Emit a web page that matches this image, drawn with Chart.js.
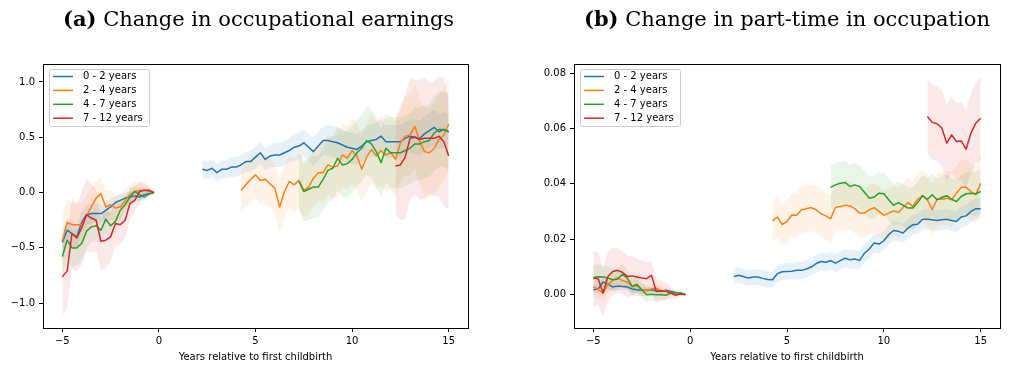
<!DOCTYPE html>
<html>
<head>
<meta charset="utf-8">
<script src="https://cdn.jsdelivr.net/npm/chart.js@4.4.0/dist/chart.umd.min.js"></script>
<style>
  body { margin: 0; background: #fff; width: 1010px; height: 367px; position: relative; overflow: hidden; }
  canvas { position: absolute; top: 0; }
  #chartEarnings { left: 0; }
  #chartPartTime { left: 505px; }
  .caption {
    position: absolute; top: 7px; z-index: 2;
    font-family: "DejaVu Serif", serif; font-size: 21px; line-height: 24px;
    white-space: nowrap; color: #000;
  }
</style>
</head>
<body>
<canvas id="chartEarnings" width="505" height="367"></canvas>
<canvas id="chartPartTime" width="505" height="367"></canvas>
<div class="caption" style="left:63px"><b>(a)</b> Change in occupational earnings</div>
<div class="caption" style="left:584px"><b>(b)</b> Change in part-time in occupation</div>
<script>
/* ---------------------------------------------------------
   Event study around first childbirth – two panels
--------------------------------------------------------- */

const seriesLabels = ["0 - 2 years", "2 - 4 years", "4 - 7 years", "7 - 12 years"];
const seriesColors = ["#1f77b4", "#ff7f0e", "#2ca02c", "#d62728"];

/* quarters before birth (last one is the reference quarter) */
const preX = [-5, -4.75, -4.5, -4.25, -4, -3.75, -3.5, -3.25, -3, -2.75,
              -2.5, -2.25, -2, -1.75, -1.5, -1.25, -1, -0.75, -0.5, -0.25];
/* quarters after birth */
const postX = [2.25, 2.5, 2.75, 3, 3.25, 3.5, 3.75, 4, 4.25, 4.5, 4.75, 5, 5.25,
               5.5, 5.75, 6, 6.25, 6.5, 6.75, 7, 7.25, 7.5, 7.75, 8, 8.25, 8.5,
               8.75, 9, 9.25, 9.5, 9.75, 10, 10.25, 10.5, 10.75, 11, 11.25, 11.5,
               11.75, 12, 12.25, 12.5, 12.75, 13, 13.25, 13.5, 13.75, 14, 14.25,
               14.5, 14.75, 15];
const postStart = [2.25, 4.25, 7.25, 12.25];

const xTicks = [-5, 0, 5, 10, 15];
const yTicksEarn = [-1, -0.5, 0, 0.5, 1];
const yTicksPart = [0, 0.02, 0.04, 0.06, 0.08];

/* ---------- (a) occupational earnings ---------- */
const earnPre02  = [-0.45, -0.34, -0.37, -0.40, -0.27, -0.20, -0.19, -0.19, -0.19, -0.16,
                    -0.13, -0.09, -0.07, -0.05, -0.04, -0.03, -0.04, -0.02, -0.01, 0];
const earnPre24  = [-0.44, -0.27, -0.29, -0.29, -0.29, -0.21, -0.13, -0.05, -0.01, -0.13,
                    -0.11, -0.14, -0.13, -0.07, -0.02, 0.01, 0.02, 0.02, 0.01, 0];
const earnPre47  = [-0.58, -0.43, -0.50, -0.50, -0.46, -0.35, -0.31, -0.30, -0.34, -0.24,
                    -0.30, -0.26, -0.16, -0.11, -0.04, 0.01, -0.02, -0.04, -0.01, 0];
const earnPre712 = [-0.76, -0.71, -0.37, -0.41, -0.32, -0.20, -0.23, -0.25, -0.44, -0.43,
                    -0.40, -0.28, -0.29, -0.25, -0.10, -0.07, 0.01, 0.02, 0.02, 0];

const earnCiPre02  = [0.12, 0.11, 0.11, 0.10, 0.10, 0.09, 0.09, 0.08, 0.08, 0.07,
                      0.07, 0.06, 0.06, 0.05, 0.05, 0.04, 0.04, 0.03, 0.02, 0];
const earnCiPre24  = [0.22, 0.21, 0.20, 0.20, 0.19, 0.18, 0.17, 0.16, 0.15, 0.14,
                      0.13, 0.12, 0.11, 0.10, 0.09, 0.08, 0.07, 0.05, 0.03, 0];
const earnCiPre47  = [0.18, 0.17, 0.17, 0.16, 0.15, 0.15, 0.14, 0.13, 0.12, 0.12,
                      0.11, 0.10, 0.09, 0.08, 0.07, 0.06, 0.05, 0.04, 0.03, 0];
const earnCiPre712 = [0.36, 0.33, 0.32, 0.30, 0.33, 0.33, 0.31, 0.28, 0.26, 0.25,
                      0.22, 0.20, 0.18, 0.16, 0.14, 0.12, 0.09, 0.07, 0.04, 0];

const earnPost02 = [0.21, 0.20, 0.22, 0.18, 0.21, 0.21, 0.23, 0.23,
                    0.25, 0.28, 0.28, 0.32, 0.36, 0.30, 0.33, 0.34,
                    0.34, 0.36, 0.38, 0.41, 0.42, 0.45, 0.41, 0.37,
                    0.42, 0.47, 0.47, 0.46, 0.45, 0.43, 0.41, 0.40,
                    0.39, 0.42, 0.46, 0.47, 0.48, 0.51, 0.46, 0.46,
                    0.46, 0.46, 0.49, 0.51, 0.50, 0.49, 0.53, 0.56,
                    0.59, 0.55, 0.57, 0.55];
const earnPost24 = [0.02, 0.07, 0.12, 0.16, 0.11, 0.12, 0.08, 0.04,
                    -0.13, 0.01, 0.10, 0.07, 0.11, 0.02, 0.05, 0.13, 0.18, 0.18,
                    0.25, 0.23, 0.24, 0.34, 0.31, 0.38, 0.33, 0.21, 0.32, 0.39,
                    0.33, 0.38, 0.34, 0.36, 0.30, 0.45, 0.51, 0.52, 0.60, 0.46,
                    0.37, 0.36, 0.40, 0.48, 0.52, 0.62];
const earnPost47 = [0.10, 0.01, 0.03, 0.05, 0.05, 0.12, 0.20, 0.22,
                    0.31, 0.25, 0.26, 0.30, 0.36, 0.40, 0.47, 0.44,
                    0.37, 0.27, 0.40, 0.36, 0.36, 0.36, 0.38, 0.40,
                    0.44, 0.44, 0.46, 0.47, 0.54, 0.57, 0.57, 0.55];
const earnPost712 = [0.24, 0.25, 0.32, 0.49, 0.50, 0.48, 0.49, 0.49, 0.49, 0.51, 0.46, 0.33];

const earnCiPost02 = [0.08, 0.08, 0.08, 0.08, 0.08, 0.08, 0.09, 0.09,
                      0.09, 0.09, 0.10, 0.10, 0.10, 0.10, 0.10, 0.11,
                      0.11, 0.11, 0.11, 0.12, 0.12, 0.12, 0.12, 0.13,
                      0.13, 0.13, 0.14, 0.14, 0.14, 0.14, 0.14, 0.14,
                      0.14, 0.14, 0.14, 0.15, 0.15, 0.15, 0.15, 0.15,
                      0.15, 0.15, 0.15, 0.15, 0.16, 0.16, 0.16, 0.16,
                      0.16, 0.16, 0.16, 0.16];
const earnCiPost24 = [0.19, 0.20, 0.21, 0.21, 0.22, 0.22, 0.22, 0.23,
                      0.24, 0.24, 0.24, 0.24, 0.25, 0.25, 0.25, 0.26, 0.26, 0.27,
                      0.27, 0.28, 0.28, 0.29, 0.29, 0.30, 0.30, 0.30, 0.31, 0.31,
                      0.31, 0.32, 0.32, 0.33, 0.33, 0.35, 0.36, 0.37, 0.38, 0.39,
                      0.40, 0.40, 0.41, 0.42, 0.42, 0.43];
const earnCiPost47 = [0.26, 0.27, 0.28, 0.28, 0.28, 0.28, 0.29, 0.29,
                      0.29, 0.29, 0.30, 0.30, 0.30, 0.30, 0.31, 0.31,
                      0.31, 0.31, 0.31, 0.32, 0.32, 0.32, 0.32, 0.32,
                      0.33, 0.33, 0.33, 0.33, 0.34, 0.34, 0.34, 0.35];
const earnCiPost712 = [0.44, 0.50, 0.56, 0.55, 0.52, 0.54, 0.55, 0.50, 0.52, 0.54, 0.58, 0.48];

/* ---------- (b) part-time share in occupation ---------- */
const ptPre02  = [0.0017, 0.0020, 0.0045, 0.0037, 0.0027, 0.0030, 0.0029, 0.0027, 0.0020, 0.0017,
                  0.0015, 0.0015, 0.0017, 0.0013, 0.0011, 0.0015, 0.0011, 0.0007, 0.0004, 0];
const ptPre24  = [0.0027, 0.0017, 0.0005, 0.0037, 0.0050, 0.0061, 0.0050, 0.0045, 0.0029, 0.0031,
                  0.0017, 0.0013, 0.0020, 0.0023, 0.0013, 0.0013, 0.0005, 0.0005, 0.0002, 0];
const ptPre47  = [0.0061, 0.0064, 0.0063, 0.0059, 0.0053, 0.0055, 0.0073, 0.0059, 0.0029, 0.0037,
                  0.0017, -0.0001, 0.0001, -0.0001, -0.0001, -0.0003, 0.0005, 0.0005, 0.0005, 0];
const ptPre712 = [0.0059, 0.0057, 0.0005, 0.0065, 0.0083, 0.0087, 0.0080, 0.0065, 0.0067, 0.0063,
                  0.0059, 0.0057, 0.0069, 0.0011, 0.0013, 0.0011, 0.0005, -0.0003, 0.0001, 0];

const ptCiPre02  = [0.0018, 0.0017, 0.0017, 0.0016, 0.0015, 0.0015, 0.0014, 0.0013, 0.0013, 0.0012,
                    0.0011, 0.0010, 0.0009, 0.0008, 0.0007, 0.0006, 0.0005, 0.0004, 0.0002, 0];
const ptCiPre24  = [0.0035, 0.0034, 0.0033, 0.0032, 0.0031, 0.0030, 0.0028, 0.0027, 0.0026, 0.0024,
                    0.0022, 0.0020, 0.0018, 0.0016, 0.0014, 0.0012, 0.0010, 0.0007, 0.0004, 0];
const ptCiPre47  = [0.0045, 0.0044, 0.0043, 0.0042, 0.0040, 0.0039, 0.0037, 0.0035, 0.0033, 0.0031,
                    0.0029, 0.0027, 0.0024, 0.0021, 0.0018, 0.0015, 0.0012, 0.0009, 0.0005, 0];
const ptCiPre712 = [0.0100, 0.0095, 0.0085, 0.0090, 0.0085, 0.0080, 0.0078, 0.0075, 0.0072, 0.0068,
                    0.0064, 0.0060, 0.0052, 0.0045, 0.0038, 0.0030, 0.0022, 0.0015, 0.0008, 0];

const ptPost02 = [0.0065, 0.0069, 0.0065, 0.0059, 0.0063, 0.0063, 0.0058, 0.0054,
                  0.0053, 0.0075, 0.0082, 0.0083, 0.0084, 0.0087, 0.0087, 0.0092,
                  0.0099, 0.0111, 0.0119, 0.0116, 0.0122, 0.0113, 0.0122, 0.0131,
                  0.0125, 0.0128, 0.0123, 0.0149, 0.0164, 0.0186, 0.0182, 0.0194,
                  0.0216, 0.0231, 0.0228, 0.0222, 0.0240, 0.0252, 0.0254, 0.0272,
                  0.0272, 0.0270, 0.0267, 0.0270, 0.0272, 0.0267, 0.0264, 0.0280,
                  0.0284, 0.0300, 0.0310, 0.0310];
const ptPost24 = [0.0266, 0.0280, 0.0252, 0.0264, 0.0287, 0.0286, 0.0306, 0.0310,
                  0.0314, 0.0306, 0.0292, 0.0284, 0.0273, 0.0314, 0.0318, 0.0322,
                  0.0320, 0.0310, 0.0294, 0.0294, 0.0306, 0.0314, 0.0300, 0.0286,
                  0.0294, 0.0302, 0.0296, 0.0314, 0.0332, 0.0318, 0.0344, 0.0357,
                  0.0342, 0.0306, 0.0344, 0.0344, 0.0348, 0.0342, 0.0366, 0.0387,
                  0.0387, 0.0372, 0.0360, 0.0402];
const ptPost47 = [0.0387, 0.0396, 0.0402, 0.0405,
                  0.0390, 0.0396, 0.0390, 0.0369, 0.0348, 0.0352, 0.0366, 0.0364,
                  0.0342, 0.0322, 0.0332, 0.0322, 0.0312, 0.0312, 0.0332, 0.0357,
                  0.0344, 0.0360, 0.0342, 0.0351, 0.0357, 0.0344, 0.0336, 0.0354,
                  0.0364, 0.0366, 0.0364, 0.0372];
const ptPost712 = [0.0643, 0.0622, 0.0617, 0.0601, 0.0547, 0.0577, 0.0553, 0.0555, 0.0525, 0.0583, 0.0619, 0.0637];

const ptCiPost02 = [0.0028, 0.0028, 0.0028, 0.0028, 0.0028, 0.0029, 0.0029, 0.0029,
                    0.0029, 0.0030, 0.0030, 0.0030, 0.0030, 0.0031, 0.0031, 0.0031,
                    0.0031, 0.0032, 0.0032, 0.0032, 0.0032, 0.0033, 0.0033, 0.0033,
                    0.0033, 0.0033, 0.0034, 0.0034, 0.0034, 0.0034, 0.0034, 0.0035,
                    0.0035, 0.0035, 0.0035, 0.0035, 0.0036, 0.0036, 0.0036, 0.0036,
                    0.0036, 0.0037, 0.0037, 0.0037, 0.0037, 0.0037, 0.0038, 0.0038,
                    0.0038, 0.0038, 0.0038, 0.0038];
const ptCiPost24 = [0.0072, 0.0074, 0.0076, 0.0078, 0.0080, 0.0082, 0.0084, 0.0085,
                    0.0085, 0.0086, 0.0086, 0.0086, 0.0087, 0.0087, 0.0087, 0.0088,
                    0.0088, 0.0088, 0.0088, 0.0089, 0.0089, 0.0089, 0.0090, 0.0090,
                    0.0090, 0.0090, 0.0091, 0.0091, 0.0091, 0.0092, 0.0092, 0.0093,
                    0.0094, 0.0095, 0.0096, 0.0097, 0.0098, 0.0099, 0.0100, 0.0101,
                    0.0102, 0.0103, 0.0104, 0.0105];
const ptCiPost47 = [0.0078, 0.0078, 0.0078, 0.0078,
                    0.0078, 0.0078, 0.0077, 0.0077, 0.0077, 0.0077, 0.0076, 0.0076,
                    0.0076, 0.0076, 0.0076, 0.0075, 0.0075, 0.0075, 0.0075, 0.0075,
                    0.0076, 0.0076, 0.0076, 0.0077, 0.0077, 0.0077, 0.0078, 0.0078,
                    0.0078, 0.0079, 0.0079, 0.0080];
const ptCiPost712 = [0.0135, 0.0135, 0.0136, 0.0137, 0.0138, 0.0138, 0.0139, 0.0140, 0.0141, 0.0143, 0.0147, 0.0150];

Chart.defaults.font.family = "'DejaVu Sans', sans-serif";
Chart.defaults.font.size = 10;
Chart.defaults.color = "#000";

/* ---------- helpers ---------- */
function fade(hex, alpha) {
    const n = parseInt(hex.slice(1), 16);
    return `rgba(${n >> 16}, ${(n >> 8) & 255}, ${n & 255}, ${alpha})`;
}

function fmtTick(v, digits) {
    return v.toFixed(digits).replace("-", "\u2212");
}

// lower bound, upper bound filled down to it, then the estimate line
function segmentDatasets(xs, ys, ci, k) {
    const color = seriesColors[k];
    return [
        {
            data: xs.map((x, i) => ({ x, y: ys[i] - ci[i] })),
            borderWidth: 0, borderColor: "rgba(0,0,0,0)", pointRadius: 0,
            fill: false, order: 20 - k
        },
        {
            data: xs.map((x, i) => ({ x, y: ys[i] + ci[i] })),
            borderWidth: 0, borderColor: "rgba(0,0,0,0)", pointRadius: 0,
            fill: "-1", backgroundColor: fade(color, 0.1), order: 20 - k
        },
        {
            data: xs.map((x, i) => ({ x, y: ys[i] })),
            borderColor: color, borderWidth: 1.5, pointRadius: 0,
            borderJoinStyle: "round", fill: false, order: 4 - k
        }
    ];
}

function buildDatasets(pre, ciPre, post, ciPost) {
    let sets = [];
    for (let k = 0; k < 4; k++) {
        const xs = postX.filter(x => x >= postStart[k]);
        sets = sets.concat(segmentDatasets(preX, pre[k], ciPre[k], k));
        sets = sets.concat(segmentDatasets(xs, post[k], ciPost[k], k));
    }
    return sets;
}

/* ---------- axes box and inner legend ---------- */
const frameAndLegend = {
    id: "frameAndLegend",
    afterDraw(chart) {
        const { ctx, chartArea: a } = chart;
        ctx.save();
        ctx.strokeStyle = "#000";
        ctx.lineWidth = 1;
        const l = Math.round(a.left) + 0.5, t = Math.round(a.top) + 0.5;
        const r = Math.round(a.right) + 0.5, b = Math.round(a.bottom) + 0.5;
        ctx.strokeRect(l, t, r - l, b - t);

        const lx = l + 6, ly = t + 5, lw = 100, lh = 57;
        ctx.beginPath();
        ctx.roundRect(lx, ly, lw, lh, 2);
        ctx.fillStyle = "rgba(255,255,255,0.8)";
        ctx.fill();
        ctx.strokeStyle = "#cccccc";
        ctx.stroke();

        ctx.font = "10px 'DejaVu Sans'";
        ctx.textBaseline = "middle";
        seriesLabels.forEach((label, k) => {
            const y = ly + 7 + k * 13.9;
            ctx.beginPath();
            ctx.moveTo(lx + 3.5, y);
            ctx.lineTo(lx + 23.5, y);
            ctx.strokeStyle = seriesColors[k];
            ctx.lineWidth = 1.5;
            ctx.stroke();
            ctx.fillStyle = "#000";
            ctx.fillText(label, lx + 33.5, y);
        });
        ctx.restore();
    }
};

function tickGrid() {
    return { display: true, drawOnChartArea: false, drawTicks: true, tickLength: 4, color: "#000", lineWidth: 1 };
}

/* ---------- one panel ---------- */
function renderPanel(canvasId, datasets, yMin, yMax, yTicks, digits, padding) {
    new Chart(document.getElementById(canvasId), {
        type: "line",
        data: { datasets },
        options: {
            responsive: false,
            animation: false,
            layout: { padding },
            plugins: { legend: { display: false }, tooltip: { enabled: false } },
            elements: { line: { tension: 0 } },
            scales: {
                x: {
                    type: "linear",
                    min: -6, max: 16,
                    grid: tickGrid(),
                    border: { display: false },
                    afterBuildTicks: s => { s.ticks = xTicks.map(v => ({ value: v })); },
                    afterFit: s => { s.height = 39; },
                    ticks: { autoSkip: false, maxRotation: 0, padding: 3, callback: v => fmtTick(v, 0) },
                    title: {
                        display: true,
                        text: "Years relative to first childbirth",
                        padding: { top: 0, bottom: 4 }
                    }
                },
                y: {
                    type: "linear",
                    min: yMin, max: yMax,
                    grid: tickGrid(),
                    border: { display: false },
                    afterBuildTicks: s => { s.ticks = yTicks.map(v => ({ value: v })); },
                    afterFit: s => { s.width = 43; },
                    ticks: { padding: 4, callback: v => fmtTick(v, digits) }
                }
            }
        },
        plugins: [frameAndLegend]
    });
}

renderPanel(
    "chartEarnings",
    buildDatasets(
        [earnPre02, earnPre24, earnPre47, earnPre712],
        [earnCiPre02, earnCiPre24, earnCiPre47, earnCiPre712],
        [earnPost02, earnPost24, earnPost47, earnPost712],
        [earnCiPost02, earnCiPost24, earnCiPost47, earnCiPost712]
    ),
    -1.224, 1.162, yTicksEarn, 1,
    { left: 0, top: 64, right: 37, bottom: 0 }
);

renderPanel(
    "chartPartTime",
    buildDatasets(
        [ptPre02, ptPre24, ptPre47, ptPre712],
        [ptCiPre02, ptCiPre24, ptCiPre47, ptCiPre712],
        [ptPost02, ptPost24, ptPost47, ptPost712],
        [ptCiPost02, ptCiPost24, ptCiPost47, ptCiPost712]
    ),
    -0.01214, 0.0833, yTicksPart, 2,
    { left: 26, top: 64, right: 10, bottom: 0 }
);
</script>
</body>
</html>
